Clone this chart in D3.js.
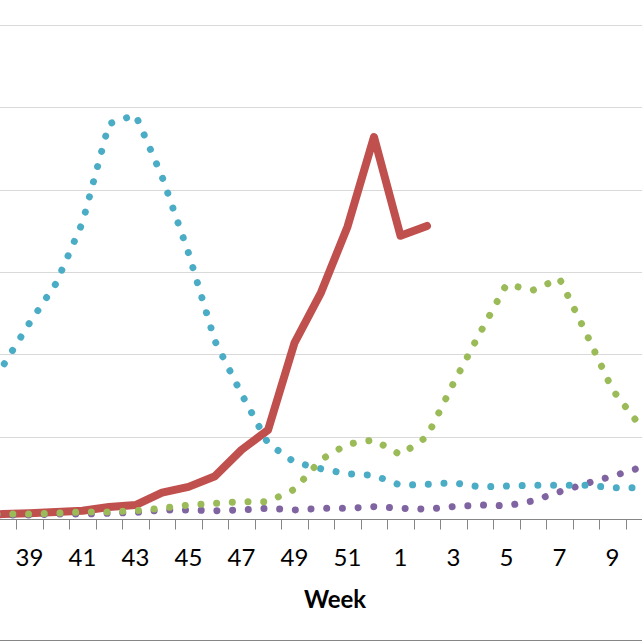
<!DOCTYPE html>
<html>
<head>
  <meta charset="UTF-8">
  <style>
    body { margin: 0; background: #fff; }
    svg { display: block; }
    text { font-family: Lato, "Open Sans", sans-serif; fill: #000; }
  </style>
</head>
<body>
  <svg></svg>
  <script src="https://d3js.org/d3.v7.min.js"></script>
  <script>
    // weeks (chart is cropped, 36 and 37 sit off the left edge)
    let weeks = [36, 37, 38, 39, 40, 41, 42, 43, 44, 45, 46, 47, 48, 49, 50, 51, 52, 1, 2, 3, 4, 5, 6, 7, 8, 9, 10];
    let tickLabels = [39, 41, 43, 45, 47, 49, 51, 1, 3, 5, 7, 9];
    let gridValues = [1, 2, 3, 4, 5, 6];

    // values in gridline units
    let redValues = [null, 0.05, 0.06, 0.07, 0.085, 0.1, 0.145, 0.17, 0.32, 0.39, 0.52, 0.84, 1.08, 2.14, 2.75, 3.55, 4.64, 3.44, 3.56,
      null, null, null, null, null, null, null, null];
    let blueValues = [0.95, 1.39, 1.86, 2.38, 2.86, 3.6, 4.8, 4.91, 4.16, 3.23, 2.16, 1.52, 0.92, 0.69, 0.61, 0.55, 0.53, 0.41, 0.42,
      0.44, 0.39, 0.40, 0.41, 0.41, 0.41, 0.38, 0.38];
    let greenValues = [0.05, 0.05, 0.06, 0.06, 0.07, 0.085, 0.085, 0.1, 0.13, 0.17, 0.19, 0.21, 0.21, 0.36, 0.72, 0.91, 0.96, 0.78, 1.0,
      1.65, 2.26, 2.85, 2.78, 2.92, 2.26, 1.57, 1.15];
    let purpleValues = [0.04, 0.04, 0.05, 0.05, 0.06, 0.06, 0.07, 0.08, 0.11, 0.11, 0.1, 0.11, 0.13, 0.11, 0.13, 0.13, 0.15, 0.13, 0.12,
      0.15, 0.17, 0.16, 0.22, 0.33, 0.43, 0.52, 0.62];

    let width = 642, height = 642;
    let svg = d3.select("svg").attr("width", width).attr("height", height);

    let x = d3.scaleBand()
      .domain(weeks.map((w, i) => i))
      .range([-63.25, -63.25 + weeks.length * 26.5])
      .padding(0);

    let y = d3.scaleLinear().domain([0, 6]).range([519, 25]);

    let xc = i => x(i) + x.bandwidth() / 2;

    // gridlines
    svg.append("g")
      .selectAll("line")
      .data(gridValues)
      .enter()
      .append("line")
      .attr("x1", 0).attr("x2", width)
      .attr("y1", d => Math.round(y(d)) + 0.5)
      .attr("y2", d => Math.round(y(d)) + 0.5)
      .attr("stroke", "#D9D9D9")
      .attr("stroke-width", 1);

    // x axis with ticks between categories
    let axisY = Math.round(y(0)) + 0.5;
    svg.append("line")
      .attr("x1", 0).attr("x2", width)
      .attr("y1", axisY).attr("y2", axisY)
      .attr("stroke", "#868686");

    svg.append("g")
      .selectAll("line")
      .data(weeks.map((w, i) => i))
      .enter()
      .append("line")
      .attr("x1", d => Math.round(x(d)) + 0.5)
      .attr("x2", d => Math.round(x(d)) + 0.5)
      .attr("y1", axisY).attr("y2", axisY + 10)
      .attr("stroke", "#868686");

    svg.append("g")
      .selectAll("text")
      .data(tickLabels)
      .enter()
      .append("text")
      .attr("x", d => xc(weeks.indexOf(d)))
      .attr("y", 566)
      .attr("text-anchor", "middle")
      .style("font-size", "24px")
      .text(d => d);

    svg.append("text")
      .attr("x", 335)
      .attr("y", 608)
      .attr("text-anchor", "middle")
      .style("font-size", "24px")
      .style("font-weight", "bold")
      .text("Week");

    // chart border at bottom
    svg.append("line")
      .attr("x1", 0).attr("x2", width)
      .attr("y1", 640.5).attr("y2", 640.5)
      .attr("stroke", "#868686");

    let line = d3.line()
      .defined(d => d[1] != null)
      .x(d => xc(d[0]))
      .y(d => y(d[1]));

    function pairs(vals) {
      return vals.map((v, i) => [i, v]);
    }

    // red solid
    svg.append("path")
      .datum(pairs(redValues))
      .attr("d", line)
      .attr("fill", "none")
      .attr("stroke", "#C0504D")
      .attr("stroke-width", 8)
      .attr("stroke-linejoin", "round")
      .attr("stroke-linecap", "round");

    // dotted series
    let dotted = [
      { vals: purpleValues, color: "#8064A2" },
      { vals: blueValues, color: "#4BACC6" },
      { vals: greenValues, color: "#9BBB59" }
    ];
    dotted.forEach(s => {
      svg.append("path")
        .datum(pairs(s.vals))
        .attr("d", line)
        .attr("fill", "none")
        .attr("stroke", s.color)
        .attr("stroke-width", 7)
        .attr("stroke-linecap", "round")
        .attr("stroke-dasharray", "0.01 15.7");
    });
  </script>
</body>
</html>
